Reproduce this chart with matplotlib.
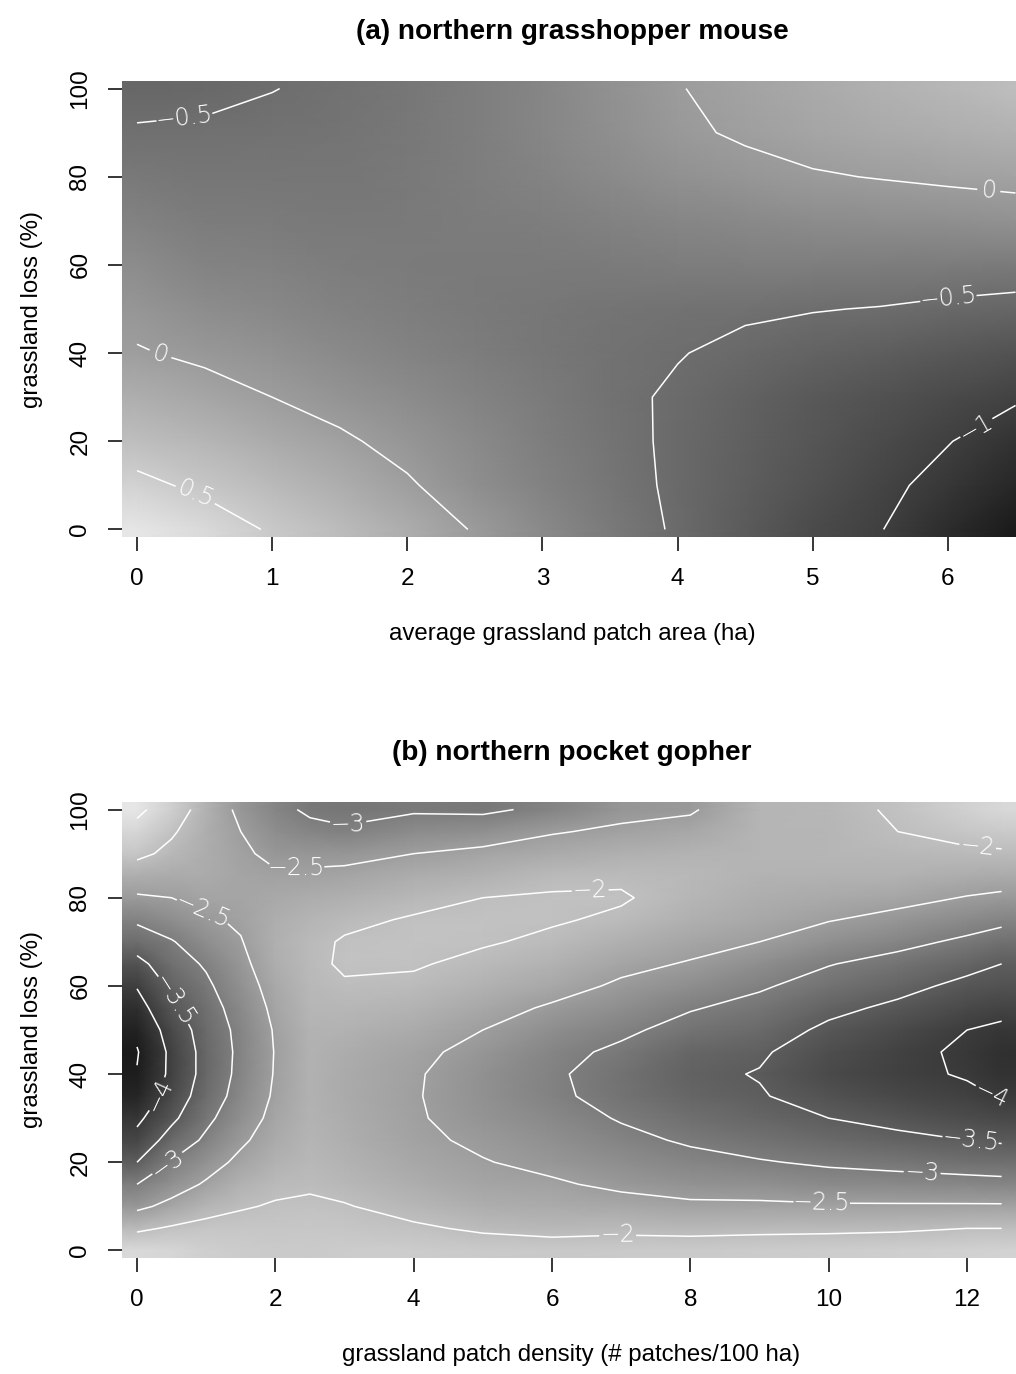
import numpy as np
import matplotlib
matplotlib.use("Agg")
import matplotlib.pyplot as plt
from matplotlib.colors import LinearSegmentedColormap

plt.rcParams["font.family"] = ["Liberation Sans", "DejaVu Sans"]
plt.rcParams["contour.negative_linestyle"] = "solid"

# ---- panel (a): northern grasshopper mouse -------------------------------
area_ha = [0, 0.5, 1, 1.5, 2, 2.5, 3, 3.5, 4, 4.5, 5, 5.5, 6, 6.5]
loss_a = [0, 10, 20, 30, 40, 50, 60, 70, 80, 90, 100]
# one row per grassland-loss value, one column per patch area
mouse = [
    [0.78, 0.65, 0.47, 0.33, 0.17, -0.02, -0.20, -0.37, -0.53, -0.70, -0.87, -0.99, -1.20, -1.40],
    [0.57, 0.44, 0.32, 0.18, 0.03, -0.14, -0.28, -0.41, -0.54, -0.67, -0.80, -0.94, -1.08, -1.25],
    [0.36, 0.27, 0.15, 0.04, -0.08, -0.20, -0.32, -0.43, -0.54, -0.65, -0.76, -0.87, -0.99, -1.13],
    [0.18, 0.10, 0.00, -0.09, -0.18, -0.27, -0.36, -0.45, -0.53, -0.62, -0.72, -0.80, -0.88, -0.97],
    [0.02, -0.05, -0.12, -0.20, -0.27, -0.34, -0.40, -0.45, -0.49, -0.55, -0.61, -0.67, -0.73, -0.79],
    [-0.08, -0.17, -0.22, -0.28, -0.33, -0.37, -0.40, -0.43, -0.45, -0.47, -0.49, -0.51, -0.55, -0.58],
    [-0.18, -0.27, -0.30, -0.34, -0.36, -0.37, -0.37, -0.36, -0.34, -0.33, -0.33, -0.34, -0.35, -0.37],
    [-0.28, -0.35, -0.36, -0.38, -0.37, -0.35, -0.32, -0.28, -0.25, -0.21, -0.18, -0.16, -0.14, -0.12],
    [-0.38, -0.41, -0.41, -0.41, -0.38, -0.33, -0.27, -0.20, -0.13, -0.07, -0.02, 0.01, 0.04, 0.07],
    [-0.48, -0.47, -0.45, -0.43, -0.39, -0.32, -0.24, -0.14, -0.04, 0.03, 0.09, 0.14, 0.18, 0.22],
    [-0.57, -0.55, -0.505, -0.46, -0.40, -0.33, -0.24, -0.13, -0.01, 0.07, 0.14, 0.21, 0.28, 0.35],
]
levels_a = [-1.0, -0.5, 0.0, 0.5]

# ---- panel (b): northern pocket gopher -----------------------------------
density = [0, 0.5, 1, 1.5, 2, 2.5, 3, 4, 5, 6, 7, 8, 9, 10, 11, 12, 12.5]
loss_b = [0, 5, 10, 15, 20, 25, 30, 35, 40, 45, 50, 55, 60, 65, 70, 75, 80, 85, 90, 95, 100]
# one column per patch density, values listed from 0 to 100 % loss
gopher_cols = [
    [-1.60, -2.08, -2.60, -3.00, -3.50, -3.85, -4.10, -4.35, -4.48, -4.53, -4.40, -4.20, -3.97, -3.65, -3.25, -2.93, -2.55, -2.25, -1.90, -1.65, -1.40],
    [-1.65, -1.95, -2.38, -2.70, -2.97, -3.30, -3.60, -3.80, -3.90, -3.90, -3.80, -3.60, -3.40, -3.20, -3.03, -2.75, -2.50, -2.30, -2.10, -1.95, -1.75],
    [-1.75, -1.88, -2.15, -2.45, -2.68, -2.92, -3.10, -3.25, -3.33, -3.33, -3.28, -3.20, -3.08, -2.95, -2.75, -2.55, -2.40, -2.30, -2.27, -2.25, -2.20],
    [-1.80, -1.87, -2.03, -2.20, -2.40, -2.57, -2.72, -2.83, -2.88, -2.90, -2.88, -2.80, -2.70, -2.60, -2.52, -2.45, -2.40, -2.40, -2.43, -2.50, -2.60],
    [-1.82, -1.88, -1.97, -2.08, -2.20, -2.30, -2.38, -2.44, -2.47, -2.48, -2.46, -2.40, -2.33, -2.26, -2.23, -2.26, -2.34, -2.45, -2.60, -2.75, -2.88],
    [-1.82, -1.87, -1.95, -2.04, -2.10, -2.15, -2.18, -2.20, -2.20, -2.20, -2.18, -2.14, -2.10, -2.07, -2.08, -2.15, -2.28, -2.43, -2.62, -2.88, -3.07],
    [-1.80, -1.88, -1.98, -2.10, -2.18, -2.24, -2.28, -2.30, -2.30, -2.27, -2.20, -2.12, -2.03, -1.96, -1.97, -2.07, -2.22, -2.40, -2.62, -2.95, -3.12],
    [-1.80, -1.95, -2.12, -2.25, -2.35, -2.42, -2.46, -2.47, -2.46, -2.41, -2.30, -2.18, -2.06, -1.97, -1.93, -1.97, -2.10, -2.28, -2.50, -2.78, -3.05],
    [-1.82, -2.05, -2.25, -2.40, -2.48, -2.57, -2.65, -2.70, -2.70, -2.62, -2.50, -2.35, -2.20, -2.08, -1.97, -1.95, -2.00, -2.20, -2.40, -2.72, -3.08],
    [-1.85, -2.10, -2.30, -2.45, -2.60, -2.72, -2.83, -2.92, -2.94, -2.88, -2.75, -2.55, -2.35, -2.20, -2.06, -1.97, -1.97, -2.08, -2.30, -2.53, -2.90],
    [-1.82, -2.08, -2.35, -2.58, -2.75, -2.90, -3.03, -3.15, -3.18, -3.08, -2.92, -2.75, -2.56, -2.40, -2.23, -2.05, -1.97, -2.05, -2.22, -2.43, -2.62],
    [-1.82, -2.10, -2.42, -2.68, -2.88, -3.05, -3.22, -3.35, -3.42, -3.35, -3.15, -2.97, -2.75, -2.53, -2.37, -2.23, -2.13, -2.10, -2.18, -2.35, -2.55],
    [-1.80, -2.08, -2.42, -2.72, -2.97, -3.18, -3.35, -3.47, -3.52, -3.45, -3.30, -3.13, -2.95, -2.75, -2.50, -2.35, -2.25, -2.18, -2.15, -2.15, -2.15],
    [-1.78, -2.07, -2.45, -2.80, -3.06, -3.30, -3.50, -3.67, -3.78, -3.72, -3.58, -3.40, -3.17, -2.98, -2.72, -2.48, -2.32, -2.20, -2.13, -2.14, -2.12],
    [-1.75, -2.05, -2.45, -2.83, -3.12, -3.40, -3.62, -3.82, -3.92, -3.90, -3.78, -3.58, -3.38, -3.15, -2.88, -2.62, -2.38, -2.20, -2.10, -2.00, -1.95],
    [-1.72, -2.00, -2.45, -2.85, -3.20, -3.50, -3.75, -3.93, -4.03, -4.06, -4.00, -3.80, -3.60, -3.38, -3.08, -2.80, -2.52, -2.28, -2.07, -1.87, -1.72],
    [-1.70, -2.00, -2.45, -2.88, -3.22, -3.55, -3.82, -4.02, -4.15, -4.18, -4.08, -3.88, -3.65, -3.50, -3.20, -2.90, -2.58, -2.30, -2.05, -1.82, -1.62],
]
levels_b = [-4.5, -4.0, -3.5, -3.0, -2.5, -2.0, -1.5]

# where the contour labels sit (data coords)
label_at_a = [(0.42, 7), (0.17, 39.5), (0.35, 94), (6.3, 76.3), (6.0, 53.5), (6.22, 22.5)]
label_at_b = [(3.05, 96.8), (2.3, 87), (0.93, 76.2), (0.55, 57), (0.27, 35.5), (0.45, 19.5),
              (6.55, 82.5), (12.15, 91), (12.4, 36.5), (12.05, 25), (11.35, 17.5),
              (9.9, 10.8), (6.95, 3)]

greys = LinearSegmentedColormap.from_list("greys", [(0.1, 0.1, 0.1), (0.9, 0.9, 0.9)])


def fmt_level(v):
    return f"{v:g}".replace("-", "\u2212")


def draw_panel(ax, x, y, z, levels, label_at, xlim, ylim, xticks, title, xlabel):
    x = np.asarray(x, float)
    y = np.asarray(y, float)
    z = np.asarray(z, float)
    ax.set_xlim(*xlim)
    ax.set_ylim(*ylim)

    # image cells reach half a step beyond the outer grid nodes
    xs = np.r_[xlim[0], x, xlim[1]]
    ys = np.r_[ylim[0], y, ylim[1]]
    zs = np.pad(z, 1, mode="edge")
    ax.pcolormesh(xs, ys, zs, shading="gouraud", cmap=greys,
                  vmin=z.min(), vmax=z.max(), rasterized=True)

    cs = ax.contour(x, y, z, levels=levels, colors="white", linewidths=1.1)
    labels = ax.clabel(cs, fmt=fmt_level, fontsize=17, colors="white",
                       inline=True, inline_spacing=5, manual=label_at)
    for t in labels:
        t.set_fontfamily("DejaVu Sans")
        t.set_fontweight("light")

    for s in ax.spines.values():
        s.set_visible(False)
    ax.set_xticks(xticks)
    ax.set_yticks([0, 20, 40, 60, 80, 100])
    ax.tick_params(direction="out", length=10, width=1.1, labelsize=17.5, pad=12)
    plt.setp(ax.get_yticklabels(), rotation=90, va="center")
    ax.set_xlabel(xlabel, fontsize=17.3, labelpad=24)
    ax.set_ylabel("grassland loss (%)", fontsize=17.3, labelpad=19)
    ax.set_title(title, fontsize=20.2, fontweight="bold", pad=30)


fig = plt.figure(figsize=(10.16, 13.74), dpi=100)
W, H = 1016, 1374
ax_a = fig.add_axes([122 / W, (H - 537) / H, 901 / W, 456 / H])
ax_b = fig.add_axes([122 / W, (H - 1258) / H, 899 / W, 456 / H])

draw_panel(ax_a, area_ha, loss_a, mouse, levels_a, label_at_a,
           (-0.111, 6.555), (-1.72, 101.72), range(0, 7),
           "(a) northern grasshopper mouse", "average grassland patch area (ha)")
draw_panel(ax_b, density, loss_b, np.array(gopher_cols).T, levels_b, label_at_b,
           (-0.217, 12.78), (-1.72, 101.72), range(0, 13, 2),
           "(b) northern pocket gopher", "grassland patch density (# patches/100 ha)")

fig.savefig("out.png", dpi=100)
